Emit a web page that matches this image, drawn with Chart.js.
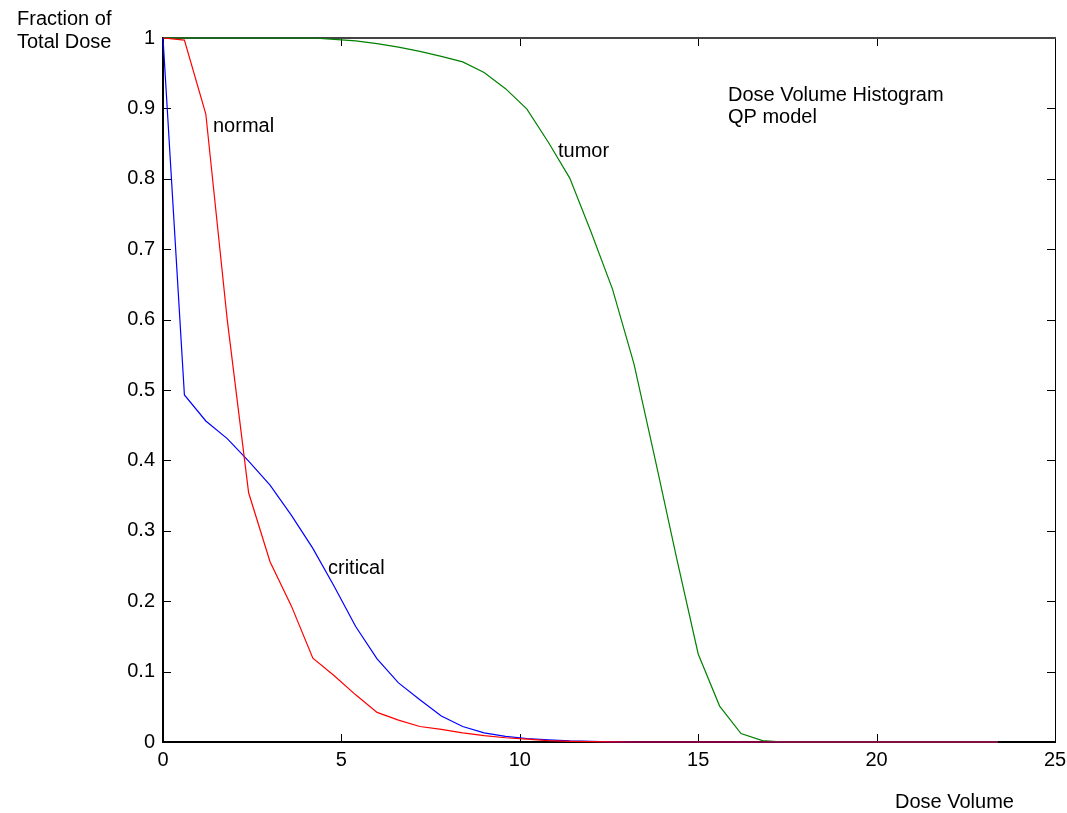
<!DOCTYPE html>
<html>
<head>
<meta charset="utf-8">
<title>Dose Volume Histogram</title>
<script src="https://cdn.jsdelivr.net/npm/chart.js@4/dist/chart.umd.min.js"></script>
<style>
  body { margin: 0; background: #fff; }
  #wrap { width: 1067px; height: 813px; }
</style>
</head>
<body>
<div id="wrap"><canvas id="ChartDVH" width="1067" height="813"></canvas></div>
<script>
// dose axis samples
var doseVolume = [0, 0.6, 1.2, 1.8, 2.4, 3.0, 3.6, 4.2, 4.8, 5.4,
                  6.0, 6.6, 7.2, 7.8, 8.4, 9.0, 9.6, 10.2, 10.8, 11.4,
                  12.0, 12.6, 13.2, 13.8, 14.4, 15.0, 15.6, 16.2, 16.8, 17.4,
                  18.0, 18.6, 19.2, 19.8, 20.4, 21.0, 21.6, 22.2, 22.8, 23.4];

var normal = [1, 0.997, 0.892, 0.60, 0.354, 0.256, 0.193, 0.119, 0.094, 0.067,
              0.042, 0.031, 0.022, 0.018, 0.013, 0.009, 0.006, 0.004, 0.002, 0.001,
              0.0005, 0.0002, 0, 0, 0, 0, 0, 0, 0, 0,
              0, 0, 0, 0, 0, 0, 0, 0, 0, 0];

var critical = [1, 0.493, 0.456, 0.431, 0.399, 0.365, 0.322, 0.275, 0.221, 0.164,
                0.118, 0.084, 0.060, 0.037, 0.022, 0.013, 0.008, 0.005, 0.003, 0.0015,
                0.0008, 0.0003, 0, 0, 0, 0, 0, 0, 0, 0,
                0, 0, 0, 0, 0, 0, 0, 0, 0, 0];

var tumor = [1, 1, 1, 1, 1, 1, 1, 1, 0.998, 0.996,
             0.992, 0.987, 0.981, 0.974, 0.966, 0.951, 0.928, 0.899, 0.852, 0.801,
             0.724, 0.643, 0.537, 0.40, 0.26, 0.125, 0.051, 0.012, 0.002, 0,
             0, 0, 0, 0, 0, 0, 0, 0, 0, 0];

var xTicks = ['0', '5', '10', '15', '20', '25'];
var yTicks = ['0', '0.1', '0.2', '0.3', '0.4', '0.5', '0.6', '0.7', '0.8', '0.9', '1'];

var FONT = '"Liberation Sans", Arial, Helvetica, sans-serif';

function pairs(ys) {
  var pts = [];
  for (var i in ys) {
    pts.push({x: doseVolume[i], y: ys[i]});
  }
  return pts;
}

// box frame with inward ticks on all four sides, plus the free text labels
var frameAndText = {
  id: 'frameAndText',
  beforeDatasetsDraw: function(chart) {
    var c = chart.ctx, a = chart.chartArea;
    var xs = chart.scales.x, ys = chart.scales.y;
    var tl = 8;
    c.save();
    c.lineWidth = 1;
    c.strokeStyle = '#000';
    c.beginPath();
    xs.ticks.forEach(function(t) {
      var px = Math.round(xs.getPixelForValue(t.value)) + 0.5;
      c.moveTo(px, a.bottom); c.lineTo(px, a.bottom - tl);
      c.moveTo(px, a.top); c.lineTo(px, a.top + tl);
    });
    ys.ticks.forEach(function(t) {
      var py = Math.round(ys.getPixelForValue(t.value)) + 0.5;
      c.moveTo(a.left, py); c.lineTo(a.left + tl, py);
      c.moveTo(a.right, py); c.lineTo(a.right - tl, py);
    });
    c.stroke();

    // right edge
    c.beginPath();
    c.moveTo(a.right + 0.5, a.top); c.lineTo(a.right + 0.5, a.bottom);
    c.stroke();
    // top edge
    c.lineWidth = 2;
    c.strokeStyle = '#444';
    c.beginPath();
    c.moveTo(a.left, a.top); c.lineTo(a.right + 1, a.top);
    c.stroke();
    // left and bottom axes
    c.strokeStyle = '#000';
    c.beginPath();
    c.moveTo(a.left, a.top - 1); c.lineTo(a.left, a.bottom); c.lineTo(a.right + 1, a.bottom);
    c.stroke();
    c.restore();
  },
  afterDraw: function(chart) {
    var c = chart.ctx;
    c.save();
    c.fillStyle = '#000';
    c.font = '20px ' + FONT;
    c.textBaseline = 'alphabetic';
    c.textAlign = 'left';
    c.fillText('Fraction of', 17, 25);
    c.fillText('Total Dose', 17, 48);
    c.fillText('Dose Volume', 895, 808);
    c.fillText('Dose Volume Histogram', 728, 101);
    c.fillText('QP model', 728, 123);
    c.fillText('normal', 213, 132);
    c.fillText('tumor', 558, 157);
    c.fillText('critical', 328, 574);
    c.restore();
  }
};

var ctx = document.getElementById('ChartDVH').getContext('2d');
var dvhChart = new Chart(ctx, {
  type: 'line',
  data: {
    datasets: [
      { label: 'normal', data: pairs(normal), borderColor: '#ff0000' },
      { label: 'critical', data: pairs(critical), borderColor: '#0000ff' },
      { label: 'tumor', data: pairs(tumor), borderColor: '#008000' }
    ]
  },
  options: {
    responsive: false,
    animation: false,
    events: [],
    layout: { padding: { left: 0, top: 38, right: 12, bottom: 0 } },
    datasets: {
      line: { borderWidth: 1.2, pointRadius: 0, tension: 0, fill: false, clip: false }
    },
    plugins: {
      legend: { display: false },
      tooltip: { enabled: false },
      title: { display: false }
    },
    scales: {
      x: {
        type: 'linear',
        min: 0,
        max: 25,
        grid: { display: false, drawTicks: false },
        border: { display: false },
        ticks: {
          stepSize: 5,
          padding: 6,
          color: '#000',
          font: { family: FONT, size: 20 },
          maxRotation: 0,
          callback: function(v, i) { return xTicks[i]; }
        },
        afterFit: function(s) {
          s.height = 71;
          s.paddingLeft = 0;
          s.paddingRight = 0;
        }
      },
      y: {
        type: 'linear',
        min: 0,
        max: 1,
        grid: { display: false, drawTicks: false },
        border: { display: false },
        ticks: {
          stepSize: 0.1,
          padding: 8,
          color: '#000',
          font: { family: FONT, size: 20 },
          callback: function(v, i) { return yTicks[i]; }
        },
        afterFit: function(s) {
          s.width = 163;
          s.paddingTop = 0;
          s.paddingBottom = 0;
        }
      }
    }
  },
  plugins: [frameAndText]
});
</script>
</body>
</html>
